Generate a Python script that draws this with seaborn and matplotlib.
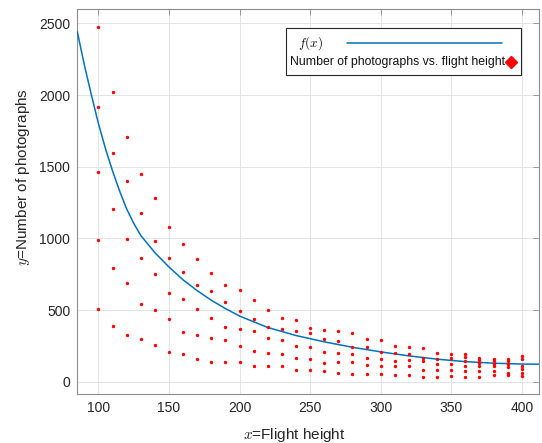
import matplotlib
matplotlib.use("Agg")
import matplotlib.pyplot as plt
import seaborn as sns
import pandas as pd
from matplotlib.patches import Rectangle

# ---------------- data ----------------
heights = [100, 110, 120, 130, 140, 150, 160, 170, 180, 190, 200, 210, 220, 230, 240,
           250, 260, 270, 280, 290, 300, 310, 320, 330, 340, 350, 360, 370, 380, 390, 400]
counts_1 = [2477, 2019, 1710, 1447, 1280, 1080, 959, 853, 756, 673, 638, 568, 503, 445, 431,
            373, 363, 352, 338, 296, 289, 251, 240, 238, 203, 195, 192, 163, 157, 156, 179]
counts_2 = [1915, 1598, 1403, 1177, 984, 865, 766, 674, 636, 558, 495, 435, 380, 366, 352,
            338, 296, 284, 244, 242, 207, 198, 194, 166, 160, 166, 174, 149, 145, 145, 156]
counts_3 = [1461, 1203, 994, 863, 754, 619, 579, 505, 443, 384, 365, 352, 303, 289, 249,
            242, 207, 198, 191, 163, 156, 147, 150, 143, 125, 126, 143, 132, 123, 123, 109]
counts_4 = [987, 796, 685, 542, 502, 438, 347, 324, 303, 289, 249, 216, 198, 193, 165,
            156, 133, 140, 137, 114, 112, 107, 106, 82, 82, 78, 112, 108, 107, 105, 86]
counts_5 = [507, 391, 324, 300, 254, 207, 195, 160, 135, 140, 138, 112, 107, 107, 84,
            79, 77, 63, 54, 52, 52, 50, 50, 35, 35, 38, 74, 72, 74, 58, 58]
extra_heights = [360, 370, 380, 390, 400]
extra_counts = [34, 36, 44, 44, 40]

curve_x = [85, 90, 95, 100, 105, 110, 115, 120, 125, 130, 140, 150, 160, 170, 180, 190,
           200, 220, 240, 260, 280, 300, 320, 340, 360, 380, 400, 412]
curve_y = [2442, 2210, 2000, 1800, 1625, 1470, 1330, 1205, 1105, 1020, 900, 800, 710, 635,
           568, 510, 458, 378, 322, 278, 240, 208, 180, 157, 140, 129, 123, 122]

x_ticks = [100, 150, 200, 250, 300, 350, 400]
y_ticks = [0, 500, 1000, 1500, 2000, 2500]

# ---------------- build table ----------------
xs, ys = [], []
for series in (counts_1, counts_2, counts_3, counts_4, counts_5):
    xs += heights
    ys += series
xs += extra_heights
ys += extra_counts
pts = pd.DataFrame({"height": xs, "photos": ys})
curve = pd.DataFrame({"x": curve_x, "y": curve_y})

# ---------------- style ----------------
sns.set_theme(style="white")
plt.rcParams["font.family"] = ["Liberation Sans", "DejaVu Sans"]
plt.rcParams["mathtext.fontset"] = "cm"

fig = plt.figure(figsize=(5.42, 4.43), dpi=100)
ax = fig.add_axes([0.1426, 0.1106, 0.8513, 0.8684])

sns.lineplot(data=curve, x="x", y="y", ax=ax, color="#0072BD", linewidth=1.1,
             sort=False, estimator=None, zorder=3)
sns.scatterplot(data=pts, x="height", y="photos", ax=ax, color="#ff0000", marker="o",
                s=6, linewidth=0, zorder=4)

ax.set_xlim(85, 412)
ax.set_ylim(-86, 2598)
ax.set_xticks(x_ticks)
ax.set_yticks(y_ticks)
ax.grid(True, color="#e4e4e4", linewidth=0.7)
ax.set_axisbelow(True)
for sp in ax.spines.values():
    sp.set_visible(True)
    sp.set_color("#8c8c8c")
    sp.set_linewidth(0.8)
ax.tick_params(direction="in", length=4, width=0.6, top=True, right=True,
               color="#8c8c8c", labelcolor="#262626", labelsize=10, pad=5)

ax.set_xlabel("$x$=Flight height", fontsize=11, color="#262626")
ax.set_ylabel("$y$=Number of photographs", fontsize=11, color="#262626")
ax.xaxis.label.set_va("center")
ax.yaxis.label.set_va("center")
ax.xaxis.set_label_coords(0.470, -0.1076)
ax.yaxis.set_label_coords(-0.118, 0.565)

# ---------------- legend (MATLAB style: text left, symbol right) ----------------
ax.add_patch(Rectangle((0.4517, 0.8292), 0.5093, 0.1214, transform=ax.transAxes,
                       facecolor="white", edgecolor="#262626", linewidth=0.8, zorder=10))
ax.text(0.4783, 0.9132, "$f(x)$", transform=ax.transAxes, fontsize=9.5,
        va="center", ha="left", color="#111111", zorder=11)
ax.plot([0.5839, 0.9211], [0.9132, 0.9132], transform=ax.transAxes,
        color="#0072BD", linewidth=1.1, zorder=11)
ax.text(0.4611, 0.8638, "Number of photographs vs. flight height", transform=ax.transAxes,
        fontsize=8.8, va="center", ha="left", color="#111111", zorder=11)
ax.plot([0.9395], [0.8638], transform=ax.transAxes, marker="D", markersize=6,
        color="#ff0000", linestyle="none", zorder=11)

fig.savefig("out.png", dpi=100)
